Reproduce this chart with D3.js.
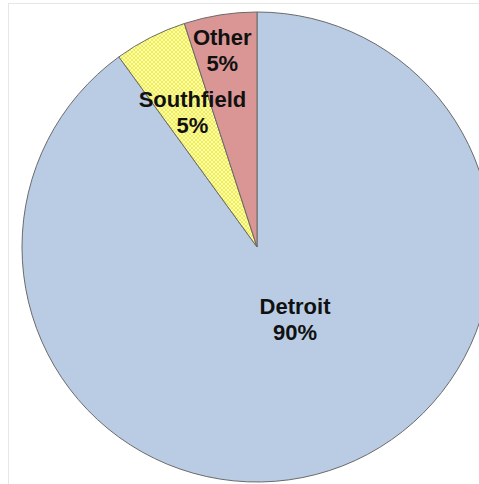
<!DOCTYPE html>
<html>
<head>
  <meta charset="utf-8" />
  <title>Pie</title>
  <style>
    body { margin: 0; background: #fff; }
    svg { display: block; }
    .label text { font-family: "Liberation Sans", Arial, sans-serif; font-weight: bold; font-size: 22px; fill: #111; }
  </style>
</head>
<body>
  <svg></svg>
  <script src="https://d3js.org/d3.v7.min.js"></script>
  <script>
    // data
    var cities = ["Detroit", "Southfield", "Other"];
    var shares = [90, 5, 5];
    var fills = ["#b9cce4", "url(#checker)", "#d99694"];

    var width = 479, height = 484;
    var cx = 257, cy = 247, radius = 235;

    var svg = d3.select("svg").attr("width", width).attr("height", height);

    // yellow checker pattern for Southfield
    var defs = svg.append("defs");
    var pat = defs.append("pattern")
      .attr("id", "checker")
      .attr("patternUnits", "userSpaceOnUse")
      .attr("width", 4).attr("height", 4);
    pat.append("rect").attr("width", 4).attr("height", 4).attr("fill", "#f1f13a");
    pat.append("rect").attr("width", 2).attr("height", 2).attr("fill", "#fcfac8");
    pat.append("rect").attr("x", 2).attr("y", 2).attr("width", 2).attr("height", 2).attr("fill", "#fcfac8");

    // faint chart frame
    svg.append("rect")
      .attr("x", 8.5).attr("y", 3.5)
      .attr("width", width + 10).attr("height", height + 10)
      .attr("fill", "none").attr("stroke", "#e6e6e6");

    var data = cities.map((c, i) => ({ city: c, value: shares[i], fill: fills[i] }));

    var pie = d3.pie().sort(null).value(d => d.value);
    var arc = d3.arc().innerRadius(0).outerRadius(radius);

    var g = svg.append("g").attr("transform", "translate(" + cx + "," + cy + ")");

    var arcs = pie(data);

    g.selectAll("path")
      .data(arcs)
      .enter()
      .append("path")
      .attr("d", arc)
      .attr("fill", d => d.data.fill)
      .attr("stroke", "#6a6a6a")
      .attr("stroke-width", 1);

    // label placement: radius from centre and angle nudge (degrees)
    var labelPos = { Detroit: [81, -10], Southfield: [150, 1.5], Other: [200, -1] };

    var labels = g.selectAll("g.label")
      .data(arcs)
      .enter()
      .append("g")
      .attr("class", "label")
      .attr("transform", d => {
        var p = labelPos[d.data.city];
        var a = (d.startAngle + d.endAngle) / 2 + p[1] * Math.PI / 180;
        return "translate(" + (p[0] * Math.sin(a)) + "," + (-p[0] * Math.cos(a)) + ")";
      });

    labels.append("text")
      .attr("text-anchor", "middle")
      .attr("y", -5)
      .text(d => d.data.city);
    labels.append("text")
      .attr("text-anchor", "middle")
      .attr("y", 21)
      .text(d => d.data.value + "%");
  </script>
</body>
</html>
